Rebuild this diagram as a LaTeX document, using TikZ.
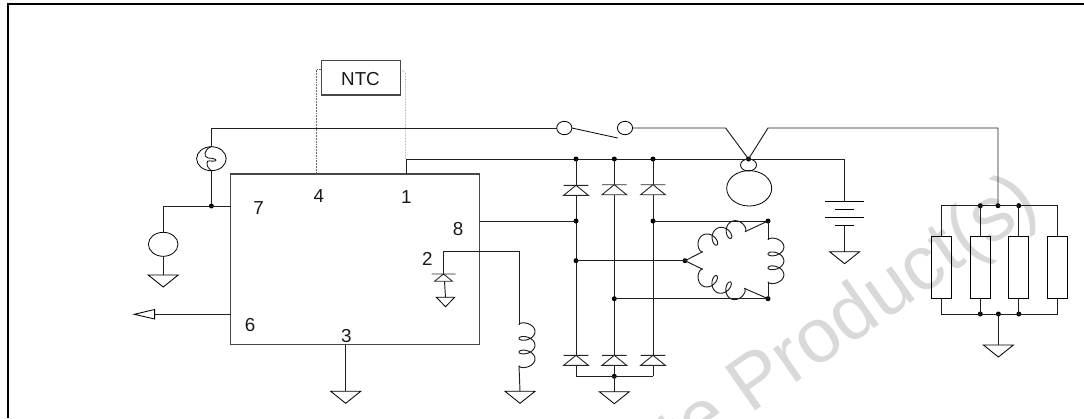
\documentclass[tikz,border=0pt]{standalone}
\usepackage{fontspec}
\setmainfont{Liberation Sans}
\usetikzlibrary{shapes.geometric,calc}
\definecolor{wm}{gray}{0.85}
\newcommand{\coilcurve}[5]{\draw[wire] plot[domain=0:18.85,samples=170,variable=\t]
  ({#1+(#3-#1)*(\t-2.2*sin(\t r))/18.85-(#4-#2)*#5*(1-cos(\t r))/2},
   {#2+(#4-#2)*(\t-2.2*sin(\t r))/18.85+(#3-#1)*#5*(1-cos(\t r))/2});}
\tikzset{
  wire/.style={draw=black!88,line width=0.95pt,line join=miter},
  box/.style={draw=black!72,line width=1.15pt,fill=none,inner sep=0pt,outer sep=0pt},
  oval/.style={ellipse,draw=black,line width=0.8pt,inner sep=0pt,outer sep=0pt},
  dotwire/.style={draw=black!60,line width=0.55pt,densely dotted},
  jn/.style={circle,fill=black,draw=none,minimum size=5pt,inner sep=0pt,outer sep=0pt},
  lab/.style={font=\fontsize{18.8}{20}\selectfont,inner sep=0pt,text=black!90},
  gndpic/.pic={\draw[line width=0.85pt,draw=black] (-15,0) -- (15,0) -- (0,12) -- cycle;},
  gndsmall/.pic={\draw[line width=0.85pt,draw=black] (-9.2,0) -- (9.2,0) -- (0,9.4) -- cycle;},
  diodepic/.pic={\draw[line width=0.9pt,draw=black!85] (-12.3,0) -- (12.3,0) (0,0) -- (-12.3,10) -- (12.3,10) -- cycle;},
  diodesmall/.pic={\draw[line width=0.85pt,draw=black!85] (-12,0) -- (12,0) (0,0) -- (-9,7.3) -- (9,7.3) -- cycle;},
}
\begin{document}
\begin{tikzpicture}[x=1pt,y=-1pt]
\useasboundingbox (0,0) rectangle (1084,418);
% watermark
\node[rotate=35,anchor=base east,text=wm,inner sep=0pt,font=\fontsize{77}{80}\selectfont] (wmark) at (1042,211) {Obsolete Product(s)};
% frame
\coordinate (fa) at (8,418); \coordinate (fb) at (8,4); \coordinate (fc) at (1084,4);
\draw[line width=2.2pt,line join=miter] (fa) -- (fb) -- (fc);
% main boxes
\node[box,rectangle,minimum width=249pt,minimum height=170.7pt] (ic) at (355.2,259.35) {};
\node[box,rectangle,minimum width=79.2pt,minimum height=34.3pt] (ntc) at (360.9,77.85) {};
\node[lab] (ntctext) at (360.5,79) {NTC};
\node[lab] (p4) at (318.9,195.7) {4};
\node[lab] (p1) at (406.3,196.7) {1};
\node[lab] (p7) at (258.5,208) {7};
\node[lab] (p8) at (458,228.7) {8};
\node[lab] (p2) at (427.3,258.7) {2};
\node[lab] (p6) at (250,324.7) {6};
\node[lab] (p3) at (346.4,336.3) {3};
% NTC dotted leads
\coordinate (dl1) at (316.5,174); \coordinate (dl2) at (316.5,69.3); \coordinate (dl3) at (321.3,69.3);
\coordinate (dr1) at (400.5,70); \coordinate (dr2) at (405.3,72); \coordinate (dr3) at (405.3,159);
\draw[dotwire] (dl1) -- (dl2) -- (dl3);
\draw[dotwire] (dr1) -- (dr2) -- (dr3);
% lamp and source
\node[oval,minimum width=29.6pt,minimum height=24pt] (lamp) at (211.4,158.7) {};
\node[oval,minimum width=29.6pt,minimum height=24pt] (src) at (163.2,244.3) {};
\node[jn] (jlamp) at (211.4,206) {};
\coordinate (tl) at (211.4,128);
\coordinate (lw) at (163.2,206);
\coordinate (icl) at (230.7,206);
\draw[wire] (lamp.north) -- (tl);
\draw[wire] (lamp.south) -- (jlamp);
\draw[wire] (src.north) -- (lw) -- (icl);
\draw[line width=0.8pt] (lamp.north) .. controls (204,149) and (203,157) .. (208,158) .. controls (214,158) and (218,160) .. (215,161) .. controls (211,162) and (207,159) .. (207,163) .. controls (207,167) and (209,169) .. (lamp.south);
\pic at (163.2,275) {gndpic};
\coordinate (srcg) at (163.2,275);
\draw[wire] (src.south) -- (srcg);
% output arrow
\coordinate (oa) at (230.7,314); \coordinate (ob) at (154.6,314); \coordinate (oc) at (154.6,309.5); \coordinate (od) at (154.6,319); \coordinate (oe) at (134.3,314.3);
\draw[wire] (oa) -- (ob);
\draw[line width=0.85pt] (oc) -- (od) -- (oe) -- cycle;
% pin 3 ground
\coordinate (g3) at (345.7,391.3);
\draw[wire] (g3 |- ic.south) -- (g3);
\pic at (g3) {gndpic};
% switch
\node[oval,minimum width=15.2pt,minimum height=13.4pt] (sw1) at (564.3,128) {};
\node[oval,minimum width=15.2pt,minimum height=13.4pt] (sw2) at (625,128) {};
\coordinate (lev) at (617.7,138);
\draw[line width=0.8pt] (sw1.east) -- (lev);
\draw[wire] (tl) -- (sw1.west);
% motor
\node[oval,minimum width=16pt,minimum height=12pt] (mots) at (748.5,165) {};
\node[oval,minimum width=45pt,minimum height=35.4pt] (motb) at (749.2,188.3) {};
\node[jn] (jm) at (748.5,159) {};
\coordinate (vl) at (725.6,128); \coordinate (vr) at (768,128); \coordinate (rt) at (998,128);
\node[jn] (jrt) at (998,205.7) {};
\draw[wire] (sw2.east) -- (vl) -- (jm.center) -- (vr) -- (rt) -- (jrt.center);
% rail
\coordinate (ra) at (406.4,174); \coordinate (rb) at (406.4,159); \coordinate (rc) at (844.6,159); \coordinate (rd) at (844.6,201.7);
\draw[wire] (ra) -- (rb) -- (rc) -- (rd);
% battery
\coordinate (bt) at (844.6,225); \coordinate (bg) at (844.6,251.7);
\draw[line width=0.9pt] (825.2,201.7) -- (864,201.7) (835,209.7) -- (854.4,209.7) (825.2,217) -- (864,217) (835,225) -- (854.4,225);
\draw[wire] (bt) -- (bg);
\pic at (bg) {gndpic};
% rectifier columns
\node[jn] (t1) at (576,159) {}; \node[jn] (t2) at (614.3,159) {}; \node[jn] (t3) at (653,159) {};
\coordinate (u1) at (576,185.3); \coordinate (u2) at (614.3,184.7); \coordinate (u3) at (653,184.7);
\coordinate (v1) at (576,195); \coordinate (v2) at (614.3,195); \coordinate (v3) at (653,195);
\coordinate (w1) at (576,355.3); \coordinate (w2) at (614.3,355.3); \coordinate (w3) at (653,355.3);
\coordinate (x1) at (576,365.3); \coordinate (x2) at (614.3,365.3); \coordinate (x3) at (653,365.3);
\coordinate (y1) at (576,376.3); \node[jn] (y2) at (614.3,376.3) {}; \coordinate (y3) at (653,376.3);
\coordinate (gb) at (614.3,391.7);
\foreach \c in {1,2,3}{
  \draw[wire] (t\c.center) -- (u\c);
  \draw[wire] (v\c) -- (w\c);
  \draw[wire] (x\c) -- (y\c);
  \pic at (u\c) {diodepic};
  \pic at (w\c) {diodepic};
}
\draw[wire] (y1) -- (y3);
\draw[wire] (y2.center) -- (gb);
\pic at (gb) {gndpic};
% pin 8 and phases
\node[jn] (a1) at (576,221) {}; \node[jn] (a3) at (653,221) {}; \node[jn] (ae) at (768,221) {};
\node[jn] (b1) at (576,260.7) {}; \node[jn] (be) at (685,260.7) {};
\node[jn] (c2) at (614.3,298.7) {}; \node[jn] (ce) at (768,298.7) {};
\draw[wire] (ic.east |- a1) -- (a1.center);
\draw[wire] (a3.center) -- (ae.center);
\draw[wire] (b1.center) -- (be.center);
\draw[wire] (c2.center) -- (ce.center);
% stator
\coordinate (s1) at (702.7,251.7); \coordinate (s2) at (745,231.7);
\coordinate (s3) at (702.7,269.3); \coordinate (s4) at (744.3,288.3);
\coordinate (s5) at (768,240); \coordinate (s6) at (768,281.7);
\draw[wire] (be.center) -- (s1); \draw[wire] (s2) -- (ae.center);
\draw[wire] (be.center) -- (s3); \draw[wire] (s4) -- (ce.center);
\draw[wire] (ae.center) -- (s5); \draw[wire] (s6) -- (ce.center);
\coilcurve{702.7}{251.7}{745}{231.7}{-0.32}
\coilcurve{702.7}{269.3}{744.3}{288.3}{0.33}
\coilcurve{768}{240}{768}{281.7}{-0.38}
% pin 2 network
\coordinate (q1) at (443.5,251.7); \coordinate (q2) at (443.5,274); \coordinate (q3) at (519,251.7); \coordinate (q4) at (519,324.7);
\coordinate (q5) at (519,365.7); \coordinate (q6) at (520,391.3); \coordinate (q7) at (444.5,281.3); \coordinate (q8) at (445.5,297.3);
\draw[wire] (q2) -- (q1) -- (q3) -- (q4);
\pic at (q2) {diodesmall};
\draw[wire] (q7) -- (q8);
\pic at (q8) {gndsmall};
\coilcurve{519}{324.7}{519}{365.7}{-0.39}
\draw[wire] (q5) -- (q6);
\pic at (q6) {gndpic};
% resistor bank
\node[box,rectangle,draw=black,line width=0.95pt,minimum width=19.8pt,minimum height=62pt] (r1) at (941.8,267.3) {};
\node[box,rectangle,draw=black,line width=0.95pt,minimum width=19.8pt,minimum height=62pt] (r2) at (980.3,267.3) {};
\node[box,rectangle,draw=black,line width=0.95pt,minimum width=19.8pt,minimum height=62pt] (r3) at (1018.8,267.3) {};
\node[box,rectangle,draw=black,line width=0.95pt,minimum width=19.8pt,minimum height=62pt] (r4) at (1057.3,267.3) {};
\node[jn] (k2) at (980.3,205.7) {}; \node[jn] (k3) at (1018.8,205.7) {};
\node[jn] (m2) at (980.3,314) {}; \node[jn] (m0) at (998.4,314) {}; \node[jn] (m3) at (1018.8,314) {};
\coordinate (k1) at (941.8,205.7); \coordinate (k4) at (1057.3,205.7);
\coordinate (m1) at (941.8,314); \coordinate (m4) at (1057.3,314);
\draw[wire] (r1.north) -- (k1) -- (k4) -- (r4.north);
\draw[wire] (r1.south) -- (m1) -- (m4) -- (r4.south);
\draw[wire] (k2.center) -- (r2.north); \draw[wire] (k3.center) -- (r3.north);
\draw[wire] (m2.center) -- (r2.south); \draw[wire] (m3.center) -- (r3.south);
\coordinate (rg) at (998.4,345);
\draw[wire] (m0.center) -- (rg);
\pic at (rg) {gndpic};
\end{tikzpicture}
\end{document}
